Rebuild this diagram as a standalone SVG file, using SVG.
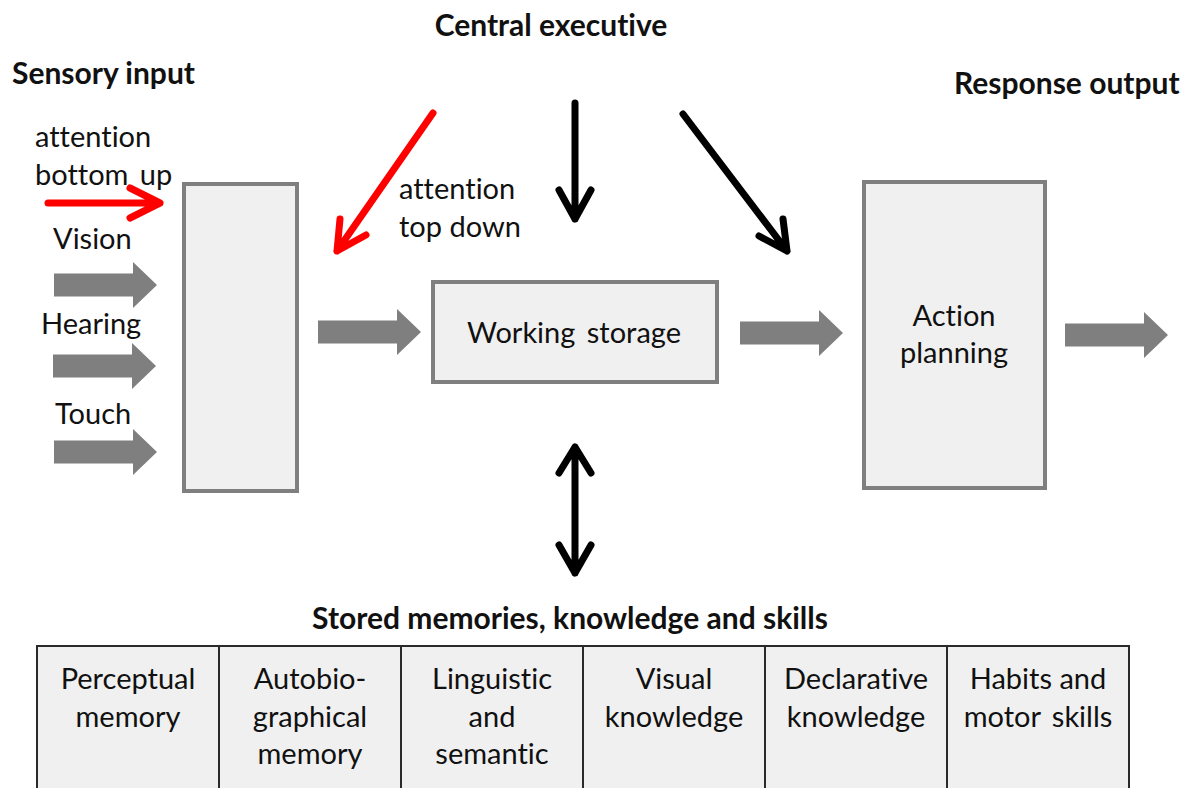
<svg xmlns="http://www.w3.org/2000/svg" xmlns:xlink="http://www.w3.org/1999/xlink" width="1192" height="788" viewBox="0 0 1192 788">
<style>
  text { font-family: Lato, "Open Sans", "Liberation Sans", sans-serif; fill: #111; font-variant-ligatures: none; white-space: pre; }
  .h { font-weight: bold; font-size: 30px; }
  .t { font-size: 29px; }
  .c { text-anchor: middle; }
  .ws { word-spacing: 4px; }
  .box { fill: #f0f0f0; stroke: #7f7f7f; stroke-width: 4; }
  .cell { fill: #f0f0f0; stroke: #2a2a2a; stroke-width: 2; }
  .blk { fill: #7f7f7f; }
  .red { fill: none; stroke: #ff0000; stroke-width: 7; stroke-linecap: round; stroke-linejoin: round; }
  .blkln { fill: none; stroke: #000; stroke-width: 7; stroke-linecap: round; stroke-linejoin: round; }
</style>
<defs>
  <path id="fat" d="M0,-11.5 H79 V-23 L103,0 L79,23 V11.5 H0 Z"/>
</defs>
<rect width="1192" height="788" fill="#fff"/>

<g id="headings">
  <text class="h c" x="551" y="36">Central executive</text>
  <text class="h" x="12" y="84">Sensory input</text>
  <text class="h" x="954" y="94">Response output</text>
  <text class="h c" x="570" y="629">Stored memories, knowledge and skills</text>
</g>

<g id="labels">
  <text class="t" x="35" y="147">attention</text>
  <text class="t ws" x="35" y="185">bottom up</text>
  <text class="t" x="53" y="249">Vision</text>
  <text class="t" x="41" y="334">Hearing</text>
  <text class="t" x="55" y="424">Touch</text>
  <text class="t" x="399" y="199">attention</text>
  <text class="t" x="399" y="237">top down</text>
</g>

<g id="sensory-buffer">
  <rect class="box" x="184" y="184" width="113" height="307"/>
</g>

<g id="working-storage">
  <rect class="box" x="433" y="282" width="284" height="100"/>
  <text class="t c ws" x="574" y="343">Working storage</text>
</g>

<g id="action-planning">
  <rect class="box" x="864" y="182" width="181" height="306"/>
  <text class="t c" x="954" y="326">Action</text>
  <text class="t c" x="954" y="363">planning</text>
</g>

<g id="memory-table">
  <g id="col-perceptual">
    <rect class="cell" x="37" y="646" width="182" height="160"/>
    <text class="t c" x="128" y="689">Perceptual</text>
    <text class="t c" x="128" y="727">memory</text>
  </g>
  <g id="col-autobiographical">
    <rect class="cell" x="219" y="646" width="182" height="160"/>
    <text class="t c" x="310" y="689">Autobio-</text>
    <text class="t c" x="310" y="727">graphical</text>
    <text class="t c" x="310" y="764">memory</text>
  </g>
  <g id="col-linguistic">
    <rect class="cell" x="401" y="646" width="182" height="160"/>
    <text class="t c" x="492" y="689">Linguistic</text>
    <text class="t c" x="492" y="727">and</text>
    <text class="t c" x="492" y="764">semantic</text>
  </g>
  <g id="col-visual">
    <rect class="cell" x="583" y="646" width="182" height="160"/>
    <text class="t c" x="674" y="689">Visual</text>
    <text class="t c" x="674" y="727">knowledge</text>
  </g>
  <g id="col-declarative">
    <rect class="cell" x="765" y="646" width="182" height="160"/>
    <text class="t c" x="856" y="689">Declarative</text>
    <text class="t c" x="856" y="727">knowledge</text>
  </g>
  <g id="col-habits">
    <rect class="cell" x="947" y="646" width="182" height="160"/>
    <text class="t c" x="1038" y="689">Habits and</text>
    <text class="t c ws" x="1038" y="727">motor skills</text>
  </g>
</g>

<g id="connectors">
  <use xlink:href="#fat" href="#fat" class="blk" x="54" y="285"/>
  <use xlink:href="#fat" href="#fat" class="blk" x="53" y="366"/>
  <use xlink:href="#fat" href="#fat" class="blk" x="54" y="452"/>
  <use xlink:href="#fat" href="#fat" class="blk" x="318" y="332"/>
  <use xlink:href="#fat" href="#fat" class="blk" x="740" y="333"/>
  <use xlink:href="#fat" href="#fat" class="blk" x="1065" y="335"/>
  <path class="red" d="M48,203 H160 M130,188 L160,203 L130,218"/>
  <path class="red" d="M433,113 L337,251 M340,219 L337,251 L366,235"/>
  <path class="blkln" d="M575,103 V219 M559,190 L575,219 L591,190"/>
  <path class="blkln" d="M683,114 L787,251 M759,236 L787,251 L783,219"/>
  <path class="blkln" d="M575,447 V573 M559,473 L575,447 L591,473 M559,545 L575,573 L591,545"/>
</g>
</svg>
